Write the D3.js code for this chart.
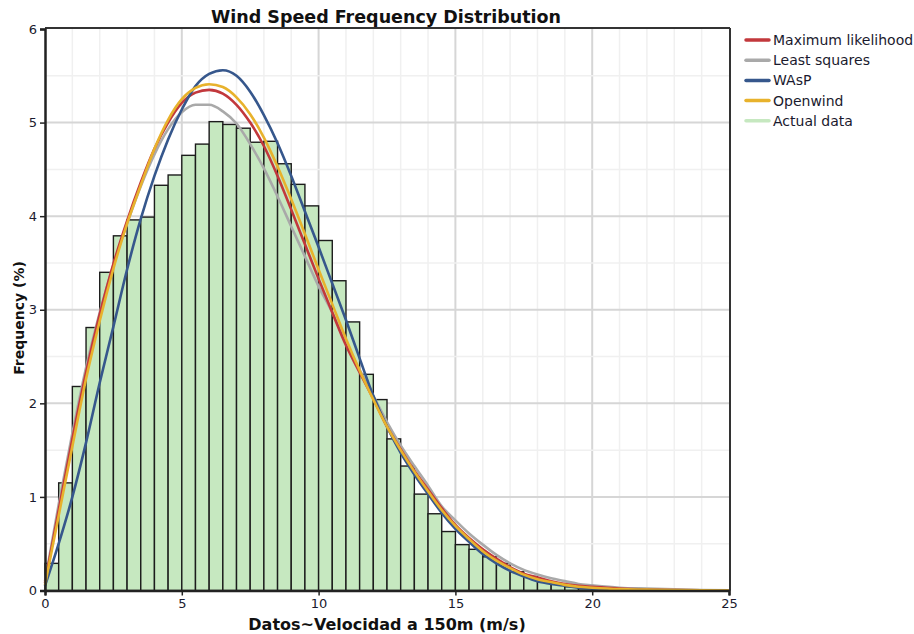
<!DOCTYPE html>
<html><head><meta charset="utf-8">
<script src="https://cdn.jsdelivr.net/npm/d3@7/dist/d3.min.js"></script>
<style>
body{margin:0;background:#fff;}
svg{display:block;font-family:"DejaVu Sans",sans-serif;}
</style></head>
<body><svg id="chart" width="914" height="634"></svg>
<script>
// ---- data ----
const binStarts = [0,0.5,1,1.5,2,2.5,3,3.5,4,4.5,5,5.5,6,6.5,7,7.5,8,8.5,9,9.5,10,10.5,11,11.5,12,12.5,13,13.5,14,14.5,15,15.5,16,16.5,17,17.5,18,18.5,19,19.5,20,20.5];
const actualData = [0.29,1.15,2.18,2.81,3.40,3.79,3.96,3.99,4.33,4.44,4.65,4.77,5.01,4.98,4.94,4.79,4.80,4.56,4.34,4.11,3.74,3.31,2.87,2.31,2.04,1.62,1.33,1.03,0.82,0.63,0.49,0.44,0.36,0.29,0.20,0.15,0.09,0.07,0.04,0.02,0.015,0.01];
const binWidth = 0.5;

const windSpeed = [0,0.5,1,1.5,2,2.5,3,3.5,4,4.5,5,5.5,6,6.5,7,7.5,8,8.5,9,9.5,10,10.5,11,11.5,12,12.5,13,13.5,14,14.5,15,15.5,16,16.5,17,17.5,18,18.5,19,19.5,20,21,22,23,24,25];
const maxLikelihood = [0.08,0.86,1.62,2.33,2.95,3.49,3.95,4.36,4.72,5.00,5.21,5.32,5.35,5.31,5.19,5.00,4.75,4.43,4.07,3.70,3.33,2.97,2.62,2.33,2.05,1.75,1.51,1.28,1.08,0.88,0.70,0.56,0.44,0.34,0.25,0.18,0.14,0.10,0.07,0.05,0.04,0.02,0.01,0.005,0.002,0];
const leastSquares = [0.10,0.92,1.68,2.38,2.97,3.48,3.92,4.32,4.66,4.93,5.11,5.19,5.19,5.12,4.99,4.77,4.51,4.21,3.89,3.57,3.25,2.97,2.64,2.36,2.08,1.80,1.55,1.33,1.12,0.90,0.75,0.61,0.49,0.38,0.29,0.22,0.17,0.13,0.10,0.07,0.055,0.03,0.02,0.012,0.006,0.003];
const wasp = [0.05,0.50,1.00,1.58,2.22,2.82,3.43,3.97,4.43,4.82,5.14,5.39,5.52,5.56,5.50,5.33,5.08,4.78,4.43,4.05,3.67,3.28,2.89,2.48,2.08,1.75,1.47,1.24,1.03,0.83,0.66,0.52,0.39,0.29,0.21,0.15,0.10,0.07,0.05,0.03,0.02,0.01,0.004,0.002,0.001,0];
const openwind = [0.06,0.80,1.54,2.26,2.88,3.44,3.92,4.33,4.72,5.03,5.25,5.37,5.41,5.38,5.27,5.09,4.84,4.53,4.18,3.81,3.43,3.06,2.69,2.35,2.04,1.75,1.50,1.27,1.06,0.86,0.69,0.55,0.42,0.32,0.24,0.17,0.12,0.09,0.06,0.04,0.03,0.015,0.01,0.005,0.002,0];

const seriesNames = ["Maximum likelihood","Least squares","WAsP","Openwind","Actual data"];
const seriesColors = ["#c2383c","#a9a9a9","#36578c","#e8b22c","#c6e8c0"];
const xTicks = [0,5,10,15,20,25];
const yTicks = [0,1,2,3,4,5,6];

// ---- layout ----
const svg = d3.select("#chart");
const L = 45, R = 729, T = 29, B = 590.5;
const x = d3.scaleLinear().domain([0,25]).range([L,R]);
const y = d3.scaleLinear().domain([0,6]).range([B,T]);

// grid
const g = svg.append("g");
g.selectAll("line.mx").data(d3.range(1,25)).enter().append("line")
  .attr("x1",d=>x(d)).attr("x2",d=>x(d)).attr("y1",T).attr("y2",B)
  .attr("stroke",d=>d%5===0?"#d6d6d6":"#f0f0f0").attr("stroke-width",d=>d%5===0?2:1.5);
g.selectAll("line.my").data(d3.range(0.5,6,0.5)).enter().append("line")
  .attr("y1",d=>y(d)).attr("y2",d=>y(d)).attr("x1",L).attr("x2",R)
  .attr("stroke",d=>d%1===0?"#d6d6d6":"#f0f0f0").attr("stroke-width",d=>d%1===0?2:1.5);

// bars
svg.append("g").selectAll("rect").data(actualData).enter().append("rect")
  .attr("x",(d,i)=>x(binStarts[i]))
  .attr("width",(d,i)=>x(binStarts[i]+binWidth)-x(binStarts[i]))
  .attr("y",d=>y(d)).attr("height",d=>B-y(d))
  .attr("fill",seriesColors[4]).attr("stroke","#1c1c1c").attr("stroke-width",1.4);

// curves
const line = d3.line().x((d,i)=>x(windSpeed[i])).y(d=>y(d)).curve(d3.curveMonotoneX);
const curveData = [[leastSquares,1],[maxLikelihood,0],[wasp,2],[openwind,3]];
curveData.forEach(([arr,ci])=>{
  svg.append("path").datum(arr).attr("d",line).attr("fill","none")
    .attr("stroke",seriesColors[ci]).attr("stroke-width",2.6).attr("stroke-linejoin","round");
});

// frame
svg.append("line").attr("x1",L).attr("x2",R+1).attr("y1",T-1).attr("y2",T-1).attr("stroke","#333").attr("stroke-width",2);
svg.append("line").attr("x1",R+1).attr("x2",R+1).attr("y1",T-1).attr("y2",B).attr("stroke","#333").attr("stroke-width",2);

// axes
const ax = svg.append("g").attr("transform",`translate(0,${B})`)
  .call(d3.axisBottom(x).tickValues(xTicks).tickFormat(d3.format("d")).tickSize(5).tickPadding(3));
const ay = svg.append("g").attr("transform",`translate(${L},0)`)
  .call(d3.axisLeft(y).tickValues(yTicks).tickFormat(d3.format("d")).tickSize(5).tickPadding(3));
[ax,ay].forEach(a=>{
  a.select(".domain").attr("stroke","#222").attr("stroke-width",2.5);
  a.selectAll(".tick line").attr("stroke","#222").attr("stroke-width",1.5);
  a.selectAll(".tick text").attr("fill","#1a1a2e").style("font-size","13px").style("font-family","'DejaVu Sans',sans-serif");
});

// title & labels
svg.append("text").attr("x",386).attr("y",23).attr("text-anchor","middle")
  .style("font-weight","bold").style("font-size","17.5px").attr("fill","#111")
  .text("Wind Speed Frequency Distribution");
svg.append("text").attr("x",387).attr("y",630).attr("text-anchor","middle")
  .style("font-weight","bold").style("font-size","16px").attr("fill","#111")
  .text("Datos~Velocidad a 150m (m/s)");
svg.append("text").attr("transform","translate(24,318) rotate(-90)").attr("text-anchor","middle")
  .style("font-weight","bold").style("font-size","14px").attr("fill","#111")
  .text("Frequency (%)");

// legend
const lg = svg.append("g");
seriesNames.forEach((n,i)=>{
  const yy = 40 + i*20.2;
  lg.append("line").attr("x1",746).attr("x2",769).attr("y1",yy).attr("y2",yy)
    .attr("stroke",seriesColors[i]).attr("stroke-width",3.5).attr("stroke-linecap","round");
  lg.append("text").attr("x",773).attr("y",yy+5).style("font-size","14px").attr("fill","#1a1a2e").text(n);
});
</script></body></html>
